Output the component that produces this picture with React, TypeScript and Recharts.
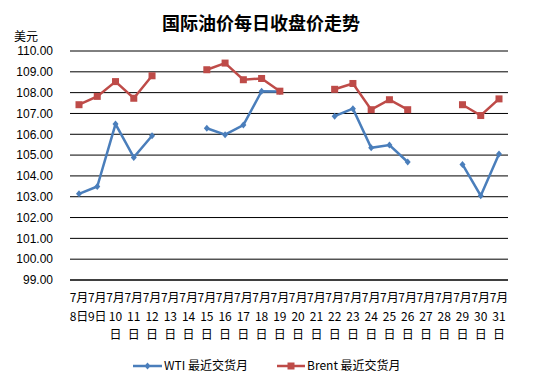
import React from 'react';
import { LineChart, Line, XAxis, YAxis, CartesianGrid, Legend } from 'recharts';

const days = ['8','9','10','11','12','13','14','15','16','17','18','19','20','21','22','23','24','25','26','27','28','29','30','31'];
const wti: (number | null)[] = [103.14,103.49,106.49,104.89,105.93,null,null,106.29,105.98,106.44,108.07,108.05,null,null,106.87,107.23,105.35,105.48,104.67,null,null,104.55,103.05,105.05];
const brent: (number | null)[] = [107.42,107.82,108.53,107.73,108.81,null,null,109.10,109.42,108.62,108.68,108.07,null,null,108.16,108.44,107.18,107.66,107.18,null,null,107.42,106.90,107.70];
const yTicks = [99,100,101,102,103,104,105,106,107,108,109,110];

const data = days.map((d, i) => ({ day: d, wti: wti[i], brent: brent[i] }));

const BLUE = '#4A7EBB';
const RED = '#BE4B48';
const CJK = '"Noto Sans CJK SC", sans-serif';

const XTick = (props: any) => {
  const { x, y, payload } = props;
  const v: string = payload.value;
  const single = v.length === 1;
  return (
    <g>
      <text x={x} y={y + 22} textAnchor="middle" fontSize={12} fontFamily={CJK} fill="#000">7月</text>
      {single ? (
        <text x={x} y={y + 41} textAnchor="middle" fontSize={12} fontFamily={CJK} fill="#000">{v + '日'}</text>
      ) : (
        <>
          <text x={x} y={y + 41} textAnchor="middle" fontSize={12} fontFamily={CJK} fill="#000">{v}</text>
          <text x={x} y={y + 59} textAnchor="middle" fontSize={12} fontFamily={CJK} fill="#000">日</text>
        </>
      )}
    </g>
  );
};

const Diamond = (props: any) => {
  const { cx, cy, value } = props;
  if (value == null || cx == null || cy == null) return null;
  return <path d={`M${cx},${cy - 3.5}L${cx + 3},${cy}L${cx},${cy + 3.5}L${cx - 3},${cy}Z`} fill={BLUE} />;
};

const Square = (props: any) => {
  const { cx, cy, value } = props;
  if (value == null || cx == null || cy == null) return null;
  return <rect x={cx - 3.5} y={cy - 3.5} width={7} height={7} fill={RED} />;
};

const LegendContent = () => (
  <svg width={544} height={40}>
    <line x1={133} y1={22} x2={162} y2={22} stroke={BLUE} strokeWidth={2.5} />
    <path d="M147.5,18.5L150.5,22L147.5,25.5L144.5,22Z" fill={BLUE} />
    <text x={164} y={26} fontSize={12} fontFamily={CJK} fill="#000">WTI 最近交货月</text>
    <line x1={277} y1={22} x2={305} y2={22} stroke={RED} strokeWidth={2.5} />
    <rect x={287.5} y={18.5} width={7} height={7} fill={RED} />
    <text x={307} y={26} fontSize={12} fontFamily={CJK} fill="#000">Brent 最近交货月</text>
  </svg>
);

export default function App() {
  return (
    <div style={{ position: 'absolute', left: 0, top: 0, width: 544, height: 384, background: '#fff' }}>
      <div style={{ position: 'absolute', left: 0, top: 10, width: 522, textAlign: 'center', fontFamily: CJK, fontWeight: 'bold', fontSize: 18, lineHeight: '24px' }}>国际油价每日收盘价走势</div>
      <div style={{ position: 'absolute', left: 14, top: 28, fontFamily: CJK, fontSize: 12, lineHeight: '16px' }}>美元</div>
      <LineChart width={544} height={384} data={data} margin={{ top: 51, right: 36, bottom: 0, left: 0 }}>
        <CartesianGrid vertical={false} stroke="#000" strokeWidth={1} />
        <XAxis dataKey="day" interval={0} tick={<XTick />} tickLine={false} tickSize={0} tickMargin={0} axisLine={{ stroke: '#000' }} height={64} padding={{ left: 9, right: 9 }} />
        <YAxis domain={[99, 110]} ticks={yTicks} tickFormatter={(v: number) => v.toFixed(2)} axisLine={false} tickLine={false} tickSize={0} tickMargin={17} width={70} tick={{ fill: '#000', fontSize: 12, fontFamily: '"Liberation Sans", Arial, sans-serif' }} interval={0} />
        <Legend verticalAlign="bottom" height={40} content={<LegendContent />} wrapperStyle={{ left: 0, width: 544 }} />
        <Line type="linear" dataKey="wti" stroke={BLUE} strokeWidth={2.5} dot={<Diamond />} activeDot={false} isAnimationActive={false} connectNulls={false} />
        <Line type="linear" dataKey="brent" stroke={RED} strokeWidth={2.5} dot={<Square />} activeDot={false} isAnimationActive={false} connectNulls={false} />
      </LineChart>
    </div>
  );
}
